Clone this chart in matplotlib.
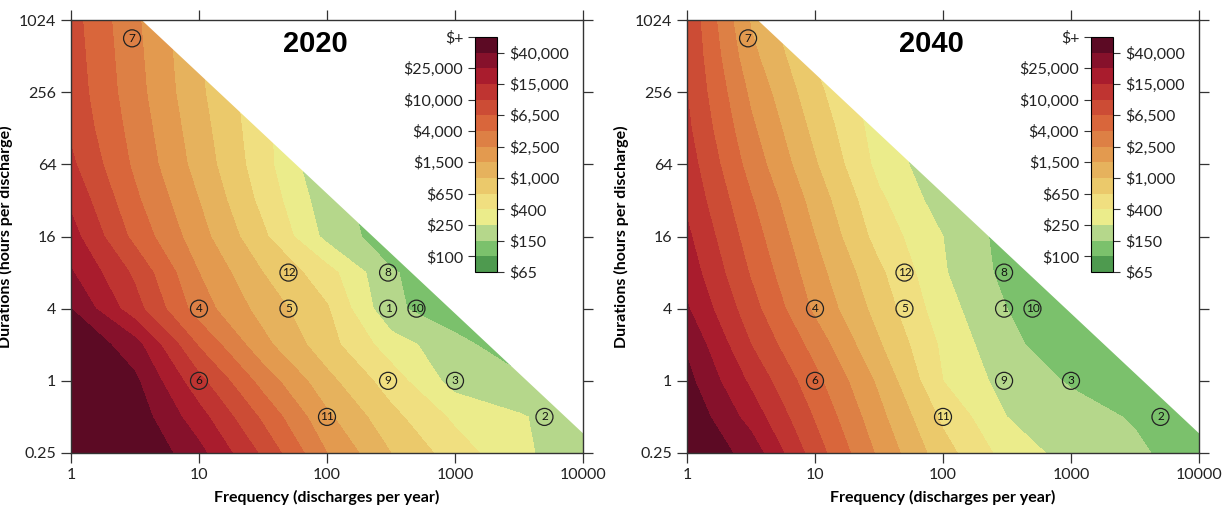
import numpy as np
import matplotlib
matplotlib.use("Agg")
import matplotlib.pyplot as plt
from matplotlib.colors import ListedColormap

plt.rcParams['font.family'] = ['Lato', 'DejaVu Sans']

freq_pts = [1, 3.16, 10, 31.6, 100, 316, 1000, 3160, 10000]
dur_pts = [0.25, 0.5, 1, 2, 4, 8, 16, 32, 64, 128, 256, 512, 1024]

# cost class = position on the legend scale (0 = $65 ... 15 = $+), rows go up in duration
cost_2020 = [
    [15.0, 15.0, 13.3, 10.8, 8.0, 6.0, 4.5, 3.2, 2.4],
    [15.0, 14.6, 12.4, 9.8, 7.2, 5.3, 3.8, 3.1, 2.4],
    [15.0, 14.2, 11.3, 8.6, 6.3, 4.5, 2.6, 2.2, 1.9],
    [15.0, 13.4, 9.9, 7.3, 5.4, 3.5, 2.3, 1.4, 1.2],
    [14.0, 11.4, 8.5, 6.6, 5.1, 2.2, 1.4, 1.2, 1.2],
    [13.1, 10.8, 8.0, 6.0, 4.4, 2.1, 1.3, 1.2, 1.2],
    [12.4, 9.7, 7.4, 5.2, 2.7, 1.4, 1.2, 1.2, 1.2],
    [11.8, 9.2, 7.0, 4.7, 2.4, 1.4, 1.2, 1.2, 1.2],
    [11.2, 8.8, 6.6, 4.4, 2.0, 1.4, 1.2, 1.2, 1.2],
    [10.8, 8.6, 6.4, 4.3, 2.2, 1.5, 1.2, 1.2, 1.2],
    [10.6, 8.4, 6.2, 4.2, 2.4, 1.5, 1.2, 1.2, 1.2],
    [10.5, 8.3, 6.1, 4.1, 2.4, 1.5, 1.2, 1.2, 1.2],
    [10.4, 8.2, 6.0, 4.0, 2.4, 1.5, 1.2, 1.2, 1.2],
]
cost_2040 = [
    [15.0, 13.6, 10.5, 7.8, 5.4, 3.6, 2.6, 2.2, 1.4],
    [14.8, 12.6, 9.9, 7.3, 4.8, 3.0, 2.4, 1.9, 1.4],
    [14.3, 11.8, 9.3, 6.8, 4.0, 2.6, 1.9, 1.4, 1.3],
    [13.85, 11.0, 8.6, 6.1, 3.8, 2.2, 1.5, 1.3, 1.2],
    [13.1, 10.4, 7.8, 5.6, 3.4, 2.0, 1.4, 1.2, 1.2],
    [12.6, 9.9, 7.4, 5.2, 3.1, 1.7, 1.3, 1.2, 1.2],
    [12.2, 9.5, 7.0, 4.6, 3.0, 1.6, 1.3, 1.2, 1.2],
    [11.8, 9.1, 6.6, 4.2, 2.5, 1.6, 1.3, 1.2, 1.2],
    [11.5, 8.6, 6.1, 3.7, 2.2, 1.5, 1.3, 1.2, 1.2],
    [11.2, 8.2, 5.7, 3.5, 2.1, 1.5, 1.3, 1.2, 1.2],
    [11.0, 7.8, 5.3, 3.3, 2.0, 1.5, 1.3, 1.2, 1.2],
    [10.9, 7.3, 4.9, 3.1, 2.0, 1.5, 1.3, 1.2, 1.2],
    [10.8, 6.9, 4.5, 3.0, 2.0, 1.5, 1.3, 1.2, 1.2],
]

level_labels = ['$65', '$100', '$150', '$250', '$400', '$650', '$1,000', '$1,500',
                '$2,500', '$4,000', '$6,500', '$10,000', '$15,000', '$25,000',
                '$40,000', '$+']
band_colors = ['#4e9a4f', '#7bc16c', '#b5d78b', '#ebec8b', '#f0df80', '#ebc96b',
               '#e6b25d', '#e39a4f', '#dd8045', '#d9663b', '#cc4c35', '#bf3431',
               '#a91c2d', '#86112b', '#5c0a24']

# numbered cases
case_id = [1, 2, 3, 4, 5, 6, 7, 8, 9, 10, 11, 12]
case_freq = [300, 5000, 1000, 10, 50, 10, 3, 300, 300, 500, 100, 50]
case_dur = [4, 0.5, 1, 4, 4, 1, 720, 8, 1, 4, 0.5, 8]

hours_limit = 3650  # freq * duration above this is blank

xticks = [1, 10, 100, 1000, 10000]
yticks = [0.25, 1, 4, 16, 64, 256, 1024]

cmap = ListedColormap(band_colors)
levels = np.arange(16)

fig = plt.figure(figsize=(12.22, 5.12), dpi=100)

panels = [("2020", cost_2020, 71), ("2040", cost_2040, 687)]
for title, grid, left_px in panels:
    rect = [left_px / 1222, 59 / 512, 512 / 1222, 433 / 512]

    # filled contours drawn in log space underneath, so bands interpolate evenly
    axc = fig.add_axes(rect)
    LX, LY = np.meshgrid(np.log10(freq_pts), np.log2(dur_pts))
    Z = np.clip(np.array(grid), 0, 15)
    cf = axc.contourf(LX, LY, Z, levels=levels, cmap=cmap)
    axc.set_xlim(np.log10(xticks[0]), np.log10(xticks[-1]))
    axc.set_ylim(np.log2(yticks[0]), np.log2(yticks[-1]))
    axc.axis('off')

    ax = fig.add_axes(rect)
    ax.patch.set_alpha(0)
    ax.set_xscale('log')
    ax.set_yscale('log', base=2)
    ax.set_xlim(xticks[0], xticks[-1])
    ax.set_ylim(yticks[0], yticks[-1])

    # blank out the corner beyond the hours limit
    x1 = xticks[-1]
    y1 = yticks[-1]
    ax.fill([hours_limit / y1, x1, x1], [y1, hours_limit / x1, y1],
            color='white', zorder=2, lw=0)

    ax.scatter(case_freq, case_dur, s=150, facecolors='none', edgecolors='#222222',
               linewidths=0.9, zorder=4)
    for n, fx, dy in zip(case_id, case_freq, case_dur):
        ax.text(fx, dy, str(n), ha='center', va='center', fontsize=8.5,
                color='#111111', zorder=5)

    ax.set_xticks(xticks)
    ax.set_xticklabels([str(v) for v in xticks])
    ax.set_yticks(yticks)
    ax.set_yticklabels(['0.25', '1', '4', '16', '64', '256', '1024'])
    ax.minorticks_off()
    ax.tick_params(direction='out', length=7, width=0.9, labelsize=11.5,
                   top=True, right=True, colors='#333333', labelcolor='#222222')
    for sp in ax.spines.values():
        sp.set_color('#333333')
        sp.set_linewidth(1.0)
        sp.set_zorder(6)
    ax.set_xlabel('Frequency (discharges per year)', fontsize=11.5,
                  fontweight='bold', labelpad=6)
    ax.set_ylabel('Durations (hours per discharge)', fontsize=11.5,
                  fontweight='bold', labelpad=4)
    ax.text(0.477, 0.945, title, transform=ax.transAxes, ha='center', va='center',
            fontsize=21, fontweight='bold', family='Liberation Sans', zorder=5)

    cax = fig.add_axes([(left_px + 404) / 1222, 240 / 512, 22 / 1222, 235 / 512])
    cb = fig.colorbar(cf, cax=cax)
    cb.outline.set_linewidth(0.8)
    cb.set_ticks(levels[::2])
    cb.set_ticklabels(level_labels[::2])
    cax.tick_params(direction='out', length=5, width=0.8, labelsize=11.5,
                    colors='#333333', labelcolor='#222222')
    sec = cax.secondary_yaxis('left')
    sec.set_yticks(levels[1::2])
    sec.set_yticklabels(level_labels[1::2])
    sec.tick_params(direction='out', length=5, width=0.8, labelsize=11.5,
                    colors='#333333', labelcolor='#222222')
    sec.spines['left'].set_visible(False)

fig.savefig('out.png', dpi=100)
